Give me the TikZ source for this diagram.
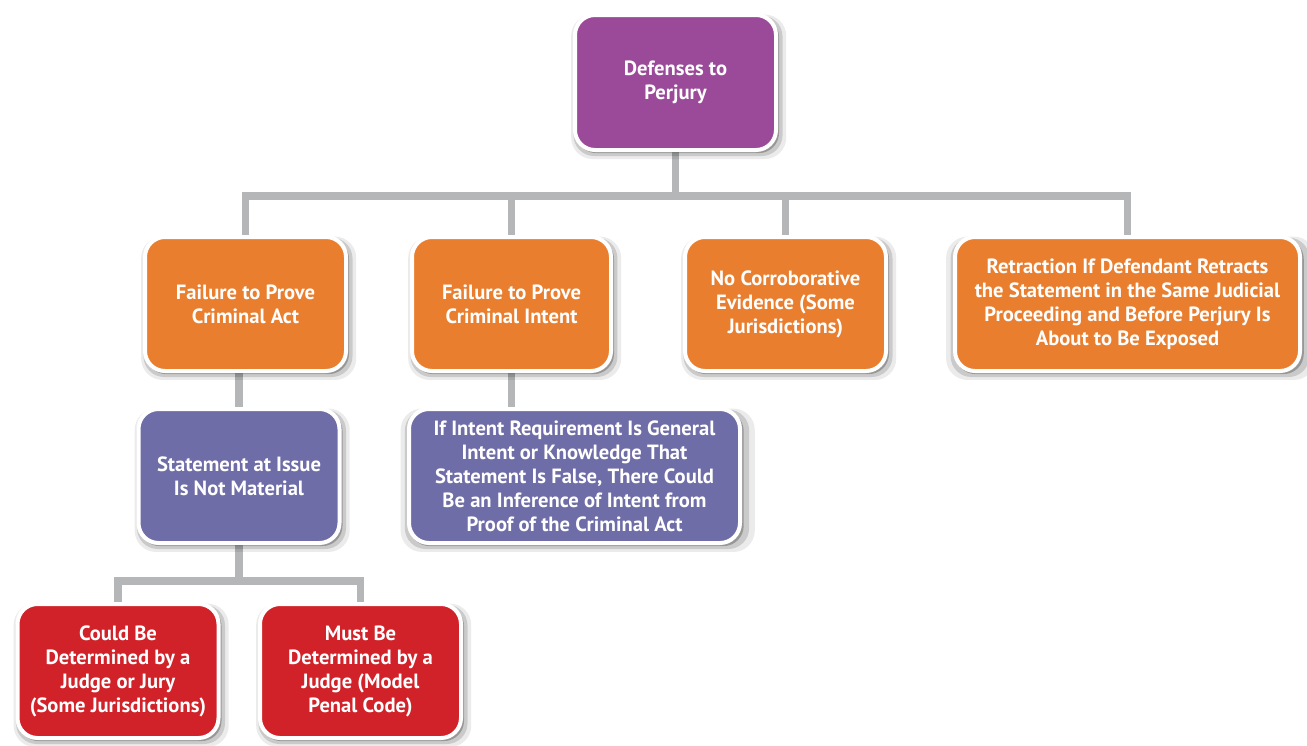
\documentclass[tikz,border=0pt]{standalone}
\usepackage{fontspec}
\setmainfont{PT Sans}
\usepackage{tikz}
\usetikzlibrary{shadows,backgrounds,positioning}

\definecolor{rootpurple}{HTML}{9A4A99}
\definecolor{failorange}{HTML}{E97E2E}
\definecolor{matblue}{HTML}{6F6DA7}
\definecolor{judgered}{HTML}{D12229}
\definecolor{linkgray}{HTML}{B4B6B7}

\tikzset{
    softshadow/.style={
        general shadow={fill=black,opacity=0.08,shadow xshift=1.5pt,shadow yshift=-2pt,shadow scale=1.07},
        general shadow={fill=black,opacity=0.14,shadow xshift=1.2pt,shadow yshift=-1.6pt,shadow scale=1.04},
        general shadow={fill=black,opacity=0.25,shadow xshift=1pt,shadow yshift=-1.2pt,shadow scale=1.01}},
    box/.style={draw=white,line width=2pt,rounded corners=10pt,softshadow,
        text=white,align=center,inner sep=2pt,
        font=\bfseries\fontsize{10.3}{12}\selectfont,
        minimum width=100.5pt,minimum height=67pt},
    link/.style={draw=linkgray,line width=3.8pt,line join=miter}
}

\begin{document}
\begin{tikzpicture}[x=0.5pt,y=-0.5pt]
    \useasboundingbox (0,0) rectangle (1307,745);
    % Top of the tree
    \node[box,fill=rootpurple,minimum height=67.5pt] (root) at (675.5,82.5) {Defenses to\\Perjury};
    % Second row
    \node[box,fill=failorange] (actfail) at (245.5,304) {Failure to Prove\\Criminal Act};
    \node[box,fill=failorange,minimum width=99.5pt] (intentfail) at (511.5,304) {Failure to Prove\\Criminal Intent};
    \node[box,fill=failorange] (nocorr) at (785.5,304) {No Corroborative\\Evidence (Some\\Jurisdictions)};
    \node[box,fill=failorange,minimum width=172.5pt] (retract) at (1127.5,304)
        {Retraction If Defendant Retracts\\the Statement in the Same Judicial\\Proceeding and Before Perjury Is\\About to Be Exposed};
    % Third row
    \node[box,fill=matblue] (notmat) at (239,476) {Statement at Issue\\Is Not Material};
    \node[box,fill=matblue,minimum width=165.5pt] (inference) at (574.5,476)
        {If Intent Requirement Is General\\Intent or Knowledge That\\Statement Is False, There Could\\Be an Inference of Intent from\\Proof of the Criminal Act};
    % Bottom row
    \node[box,fill=judgered] (judgejury) at (118,671) {Could Be\\Determined by a\\Judge or Jury\\(Some Jurisdictions)};
    \node[box,fill=judgered] (judgeonly) at (360.5,671) {Must Be\\Determined by a\\Judge (Model\\Penal Code)};

    % Connectors
    \coordinate (upperbus) at (0,196);
    \coordinate (lowerbus) at (0,581);
    \begin{scope}[on background layer]
        \draw[link] (root.south) -- (root.south |- upperbus);
        \draw[link] (actfail.north) -- (actfail.north |- upperbus) -- (retract.north |- upperbus) -- (retract.north);
        \draw[link] (intentfail.north) -- (intentfail.north |- upperbus);
        \draw[link] (nocorr.north) -- (nocorr.north |- upperbus);
        \draw[link] (notmat.north) -- (notmat.north |- actfail.south);
        \draw[link] (intentfail.south) -- (intentfail.south |- inference.north);
        \draw[link] (notmat.south) -- (notmat.south |- lowerbus);
        \draw[link] (judgejury.north) -- (judgejury.north |- lowerbus) -- (judgeonly.north |- lowerbus) -- (judgeonly.north);
    \end{scope}
\end{tikzpicture}
\end{document}
